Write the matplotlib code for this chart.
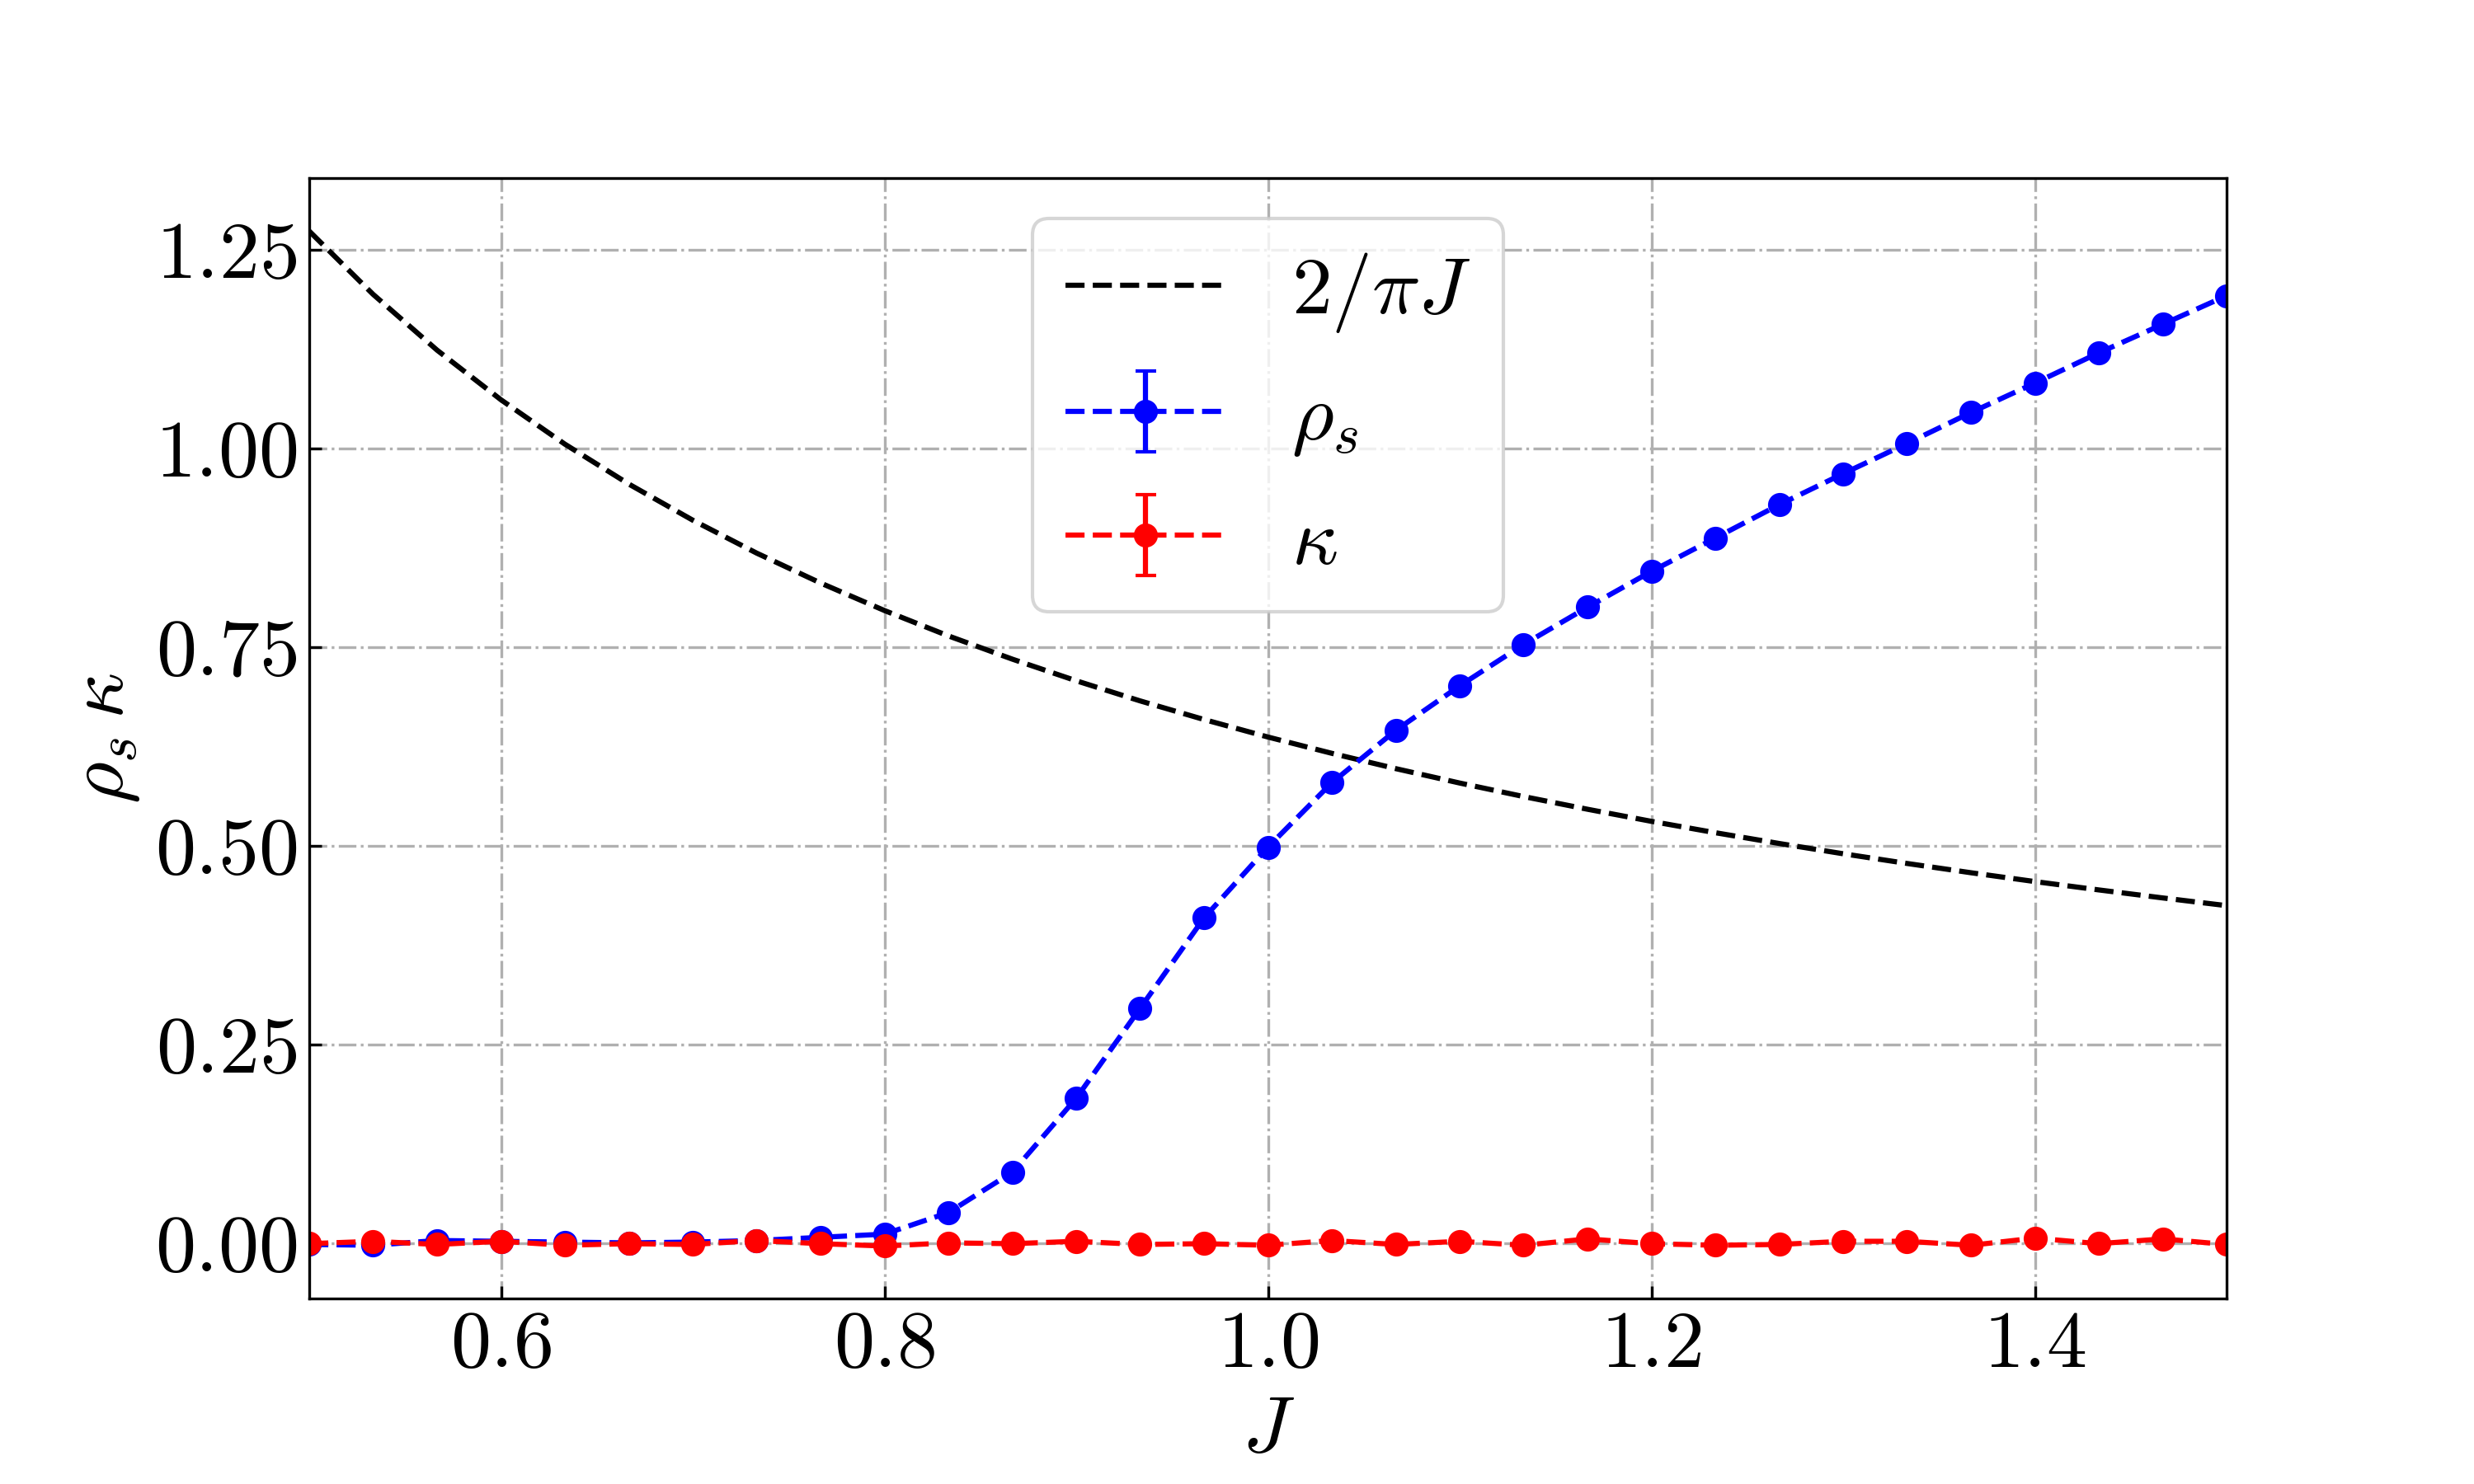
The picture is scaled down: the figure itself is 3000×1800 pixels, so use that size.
import numpy as np
import matplotlib
matplotlib.use("Agg")
import matplotlib.pyplot as plt

plt.rcParams['font.family'] = 'serif'
plt.rcParams['font.serif'] = ['cmr10']
plt.rcParams['mathtext.fontset'] = 'cm'
plt.rcParams['axes.formatter.use_mathtext'] = True
plt.rcParams['font.size'] = 23.5
plt.rcParams['axes.unicode_minus'] = False

#Coupling values J
J = [0.5, 0.5333, 0.5667, 0.6, 0.6333, 0.6667, 0.7, 0.7333, 0.7667, 0.8,
     0.8333, 0.8667, 0.9, 0.9333, 0.9667, 1.0, 1.0333, 1.0667, 1.1, 1.1333,
     1.1667, 1.2, 1.2333, 1.2667, 1.3, 1.3333, 1.3667, 1.4, 1.4333, 1.4667, 1.5]

#Reference curve 2/(pi J) read at the same J values
bkt = [1.2732, 1.1937, 1.1234, 1.0610, 1.0052, 0.9549, 0.9095, 0.8681, 0.8304, 0.7958,
       0.7639, 0.7346, 0.7074, 0.6821, 0.6586, 0.6366, 0.6161, 0.5968, 0.5787, 0.5617,
       0.5457, 0.5305, 0.5162, 0.5026, 0.4897, 0.4775, 0.4658, 0.4547, 0.4442, 0.4341, 0.4244]

#Superfluid stiffness
rho_s = [-0.002, -0.003, 0.003, 0.002, 0.001, 0.000, 0.001, 0.003, 0.007, 0.011,
         0.038, 0.089, 0.182, 0.295, 0.409, 0.498, 0.579, 0.645, 0.701, 0.753,
         0.800, 0.845, 0.887, 0.929, 0.968, 1.006, 1.045, 1.082, 1.120, 1.156, 1.192]
rho_err = [0.001, 0.001, 0.001, 0.001, 0.001, 0.001, 0.001, 0.001, 0.002, 0.002,
           0.003, 0.003, 0.003, 0.003, 0.003, 0.003, 0.002, 0.002, 0.002, 0.002,
           0.002, 0.002, 0.002, 0.002, 0.002, 0.002, 0.002, 0.002, 0.002, 0.002, 0.002]

#Compressibility
kappa = [-0.001, 0.002, -0.002, 0.002, -0.003, -0.001, -0.002, 0.003, -0.001, -0.004,
         0.000, -0.001, 0.002, -0.002, -0.001, -0.003, 0.003, -0.002, 0.002, -0.003,
         0.005, -0.001, -0.003, -0.002, 0.002, 0.002, -0.003, 0.006, -0.001, 0.005, -0.002]
kappa_err = [0.002, 0.002, 0.002, 0.002, 0.002, 0.002, 0.002, 0.002, 0.002, 0.002,
             0.002, 0.002, 0.002, 0.002, 0.002, 0.002, 0.002, 0.002, 0.002, 0.002,
             0.002, 0.002, 0.002, 0.002, 0.002, 0.002, 0.002, 0.002, 0.002, 0.002, 0.002]

fig = plt.figure(figsize=(10, 6), dpi=300)
ax = fig.add_axes([0.125, 0.125, 0.775, 0.755])

ax.plot(J, bkt, 'k--', label=r'$2/\pi J$')
ax.errorbar(J, rho_s, yerr=rho_err, fmt='o--', color='b', capsize=3, label=r'$\rho_s$')
ax.errorbar(J, kappa, yerr=kappa_err, fmt='o--', color='r', capsize=3, label=r'$\kappa$')

ax.set_xlim(0.5, 1.5)
ax.set_ylim(-0.07, 1.34)
ax.set_xticks([0.6, 0.8, 1.0, 1.2, 1.4])
ax.set_yticks([0.0, 0.25, 0.5, 0.75, 1.0, 1.25])
ax.tick_params(direction='in')
ax.grid(True, linestyle='-.')
ax.set_xlabel(r'$J$')
ax.set_ylabel(r'$\rho_s \, \kappa$')
ax.legend(loc='upper center', labelspacing=0.6)

fig.savefig('out.png', dpi=300)
